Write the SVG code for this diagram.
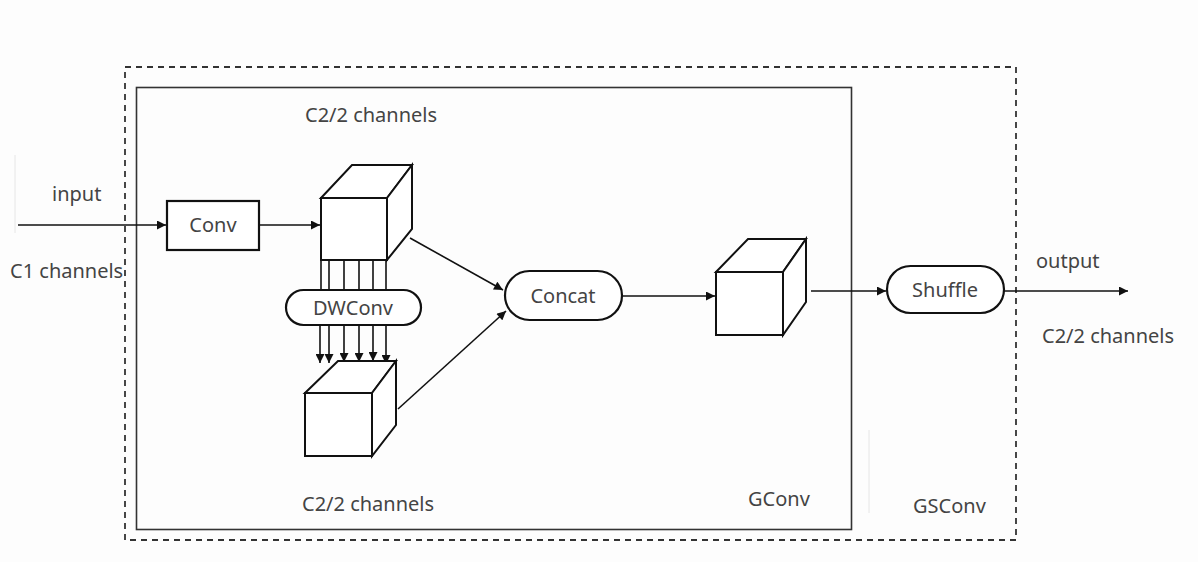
<svg xmlns="http://www.w3.org/2000/svg" width="1198" height="562" viewBox="0 0 1198 562">
  <defs>
    <marker id="arrow" viewBox="0 0 10 10" refX="10" refY="5" markerWidth="10" markerHeight="9" markerUnits="userSpaceOnUse" orient="auto">
      <path d="M0,0 L10,5 L0,10 z" fill="#111"/>
    </marker>
  </defs>
  <style>
    .lbl { font-family: "Noto Sans", "Open Sans", sans-serif; font-size: 20px; fill: #444; }
    .mid { text-anchor: middle; }
    .box { fill: #fff; stroke: #111; stroke-width: 2.2; }
    .cube { fill: #fff; stroke: #111; stroke-width: 2; stroke-linejoin: miter; }
    .link { fill: none; stroke: #111; stroke-width: 1.6; }
    .faint { stroke: #e6e6e6; stroke-width: 1; }
  </style>
  <rect width="1198" height="562" fill="#fdfdfd"/>

  <!-- frames -->
  <g id="gsconv-frame">
    <rect x="125" y="67" width="891" height="473" fill="none" stroke="#333" stroke-width="1.8" stroke-dasharray="6 5"/>
    <text class="lbl" x="913" y="513">GSConv</text>
  </g>
  <g id="gconv-frame">
    <rect x="136.5" y="87.5" width="715" height="442" fill="none" stroke="#333" stroke-width="1.6"/>
    <text class="lbl" x="748" y="506">GConv</text>
  </g>
  <line class="faint" x1="15" y1="155" x2="15" y2="233"/>
  <line class="faint" x1="869" y1="430" x2="869" y2="513"/>

  <!-- labels -->
  <g id="labels">
    <text class="lbl" x="52" y="201">input</text>
    <text class="lbl" x="10" y="278">C1 channels</text>
    <text class="lbl" x="305" y="122">C2/2 channels</text>
    <text class="lbl" x="302" y="511">C2/2 channels</text>
    <text class="lbl" x="1036" y="268">output</text>
    <text class="lbl" x="1042" y="343">C2/2 channels</text>
  </g>

  <!-- connectors -->
  <g id="connectors">
    <line class="link" x1="18" y1="225" x2="166" y2="225" marker-end="url(#arrow)"/>
    <line class="link" x1="259" y1="225" x2="320" y2="225" marker-end="url(#arrow)"/>
    <line class="link" x1="410" y1="238" x2="503" y2="290" marker-end="url(#arrow)"/>
    <line class="link" x1="398" y1="409" x2="506" y2="311" marker-end="url(#arrow)"/>
    <line class="link" x1="622" y1="296" x2="715" y2="296" marker-end="url(#arrow)"/>
    <line class="link" x1="811" y1="291" x2="886" y2="291" marker-end="url(#arrow)"/>
    <line class="link" x1="1004" y1="291" x2="1128" y2="291" marker-end="url(#arrow)"/>
    <!-- depthwise channel lines -->
    <g class="link">
      <line x1="321" y1="260" x2="321" y2="290"/>
      <line x1="329" y1="260" x2="329" y2="290"/>
      <line x1="344" y1="260" x2="344" y2="290"/>
      <line x1="359" y1="260" x2="359" y2="290"/>
      <line x1="373" y1="260" x2="373" y2="290"/>
      <line x1="386" y1="260" x2="386" y2="290"/>
      <line x1="320" y1="325" x2="320" y2="363" marker-end="url(#arrow)"/>
      <line x1="329" y1="325" x2="329" y2="363" marker-end="url(#arrow)"/>
      <line x1="344" y1="325" x2="344" y2="362" marker-end="url(#arrow)"/>
      <line x1="359" y1="325" x2="359" y2="362" marker-end="url(#arrow)"/>
      <line x1="373" y1="325" x2="373" y2="361" marker-end="url(#arrow)"/>
      <line x1="386" y1="325" x2="386" y2="364" marker-end="url(#arrow)"/>
    </g>
  </g>

  <!-- nodes -->
  <g id="conv">
    <rect class="box" x="167" y="201" width="92" height="49"/>
    <text class="lbl mid" x="213" y="232">Conv</text>
  </g>

  <g id="cube-top">
    <path class="cube" d="M321,198 L352,165 L412,165 L387,198 Z"/>
    <path class="cube" d="M387,198 L412,165 L412,229 L387,260 Z"/>
    <rect class="cube" x="321" y="198" width="66" height="62"/>
  </g>

  <g id="dwconv">
    <rect class="box" x="286" y="290" width="135" height="35" rx="17.5" ry="17.5"/>
    <text class="lbl mid" x="353" y="315">DWConv</text>
  </g>

  <g id="cube-bottom">
    <path class="cube" d="M305,393 L338,361 L396,361 L372,393 Z"/>
    <path class="cube" d="M372,393 L396,361 L396,425 L372,456 Z"/>
    <rect class="cube" x="305" y="393" width="67" height="63"/>
  </g>

  <g id="concat">
    <rect class="box" x="505" y="271" width="117" height="49" rx="24.5" ry="24.5"/>
    <text class="lbl mid" x="563" y="303">Concat</text>
  </g>

  <g id="cube-right">
    <path class="cube" d="M716,272 L748,239 L806,239 L783,272 Z"/>
    <path class="cube" d="M783,272 L806,239 L806,302 L783,335 Z"/>
    <rect class="cube" x="716" y="272" width="67" height="63"/>
  </g>

  <g id="shuffle">
    <rect class="box" x="887" y="266" width="117" height="47" rx="23.5" ry="23.5"/>
    <text class="lbl mid" x="945" y="297">Shuffle</text>
  </g>
</svg>
